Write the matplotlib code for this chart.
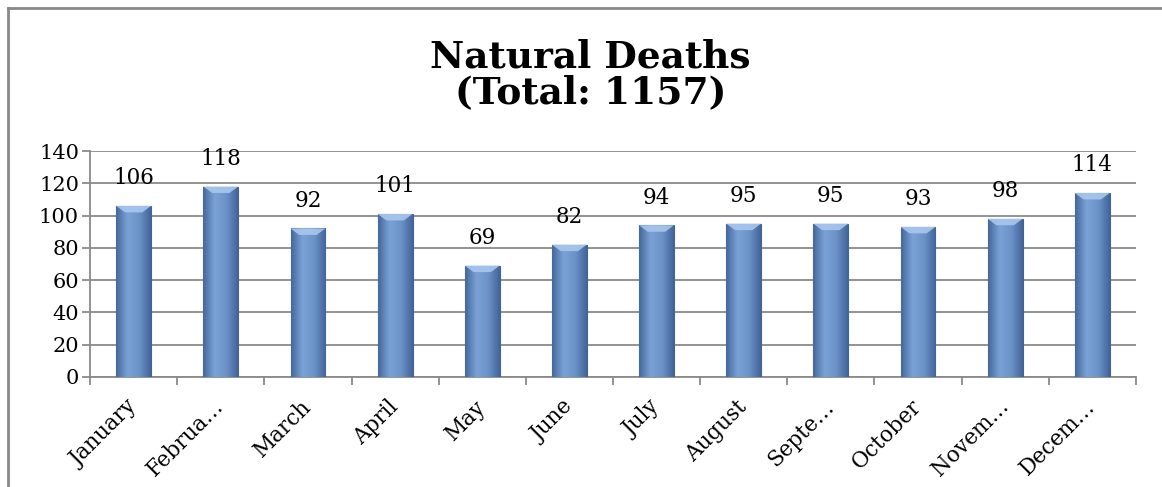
import numpy as np
import matplotlib.pyplot as plt
import matplotlib.transforms as mtransforms
from matplotlib.colors import LinearSegmentedColormap
from matplotlib.lines import Line2D
from matplotlib.patches import Polygon

##data
months = ["January", "February", "March", "April", "May", "June", "July",
          "August", "September", "October", "November", "December"]
tick_labels = ["January", "Februa\u2026", "March", "April", "May", "June", "July",
               "August", "Septe\u2026", "October", "Novem\u2026", "Decem\u2026"]
deaths = [106, 118, 92, 101, 69, 82, 94, 95, 95, 93, 98, 114]

plt.rcParams['font.family'] = ['DejaVu Serif']

fig = plt.figure(figsize=(11.62, 4.87), dpi=100)
ax = fig.add_axes([0.0775, 0.2259, 0.9, 0.464])

x = np.arange(len(months))
bars = ax.bar(x, deaths, width=0.4, color='#6B91C8', edgecolor='#42648F',
              linewidth=0.8, zorder=3)

##gradient fill inside each bar (dark edges, light middle)
cmap = LinearSegmentedColormap.from_list('bar', ['#45679A', '#7AA2D6', '#6C93C8', '#42649A'])
grad = np.linspace(0, 1, 200).reshape(1, -1)
for b in bars:
    bx, by = b.get_x(), b.get_y()
    w, h = b.get_width(), b.get_height()
    im = ax.imshow(grad, extent=[bx, bx + w, by, by + h], cmap=cmap,
                   aspect='auto', zorder=3.5, interpolation='bicubic')
    im.set_clip_path(b)
    ##light bevel at the top of the bar
    ax.add_patch(Polygon([(bx, by + h), (bx + w, by + h), (bx + w * 0.75, by + h - 4),
                          (bx + w * 0.25, by + h - 4)], closed=True,
                         facecolor='#A9C7EE', edgecolor='none', alpha=0.9, zorder=4))

##value labels above the bars
for xi, v in zip(x, deaths):
    ax.annotate(str(v), (xi, v), xytext=(0, 12), textcoords='offset points',
                ha='center', va='bottom', fontsize=15.5)

ax.set_xlim(-0.5, len(months) - 0.5)
ax.set_ylim(0, 140)
ax.set_yticks(range(0, 141, 20))
ax.yaxis.grid(True, color='#8A8A8A', linewidth=1.3, zorder=0)
ax.set_axisbelow(True)

ax.set_xticks(x)
ax.set_xticklabels(tick_labels, rotation=45, ha='right', va='center',
                   rotation_mode='anchor', fontsize=15.5)
##nudge month labels a little to the right, like the original
shift = mtransforms.ScaledTranslation(7 / 100, 0, fig.dpi_scale_trans)
for lab in ax.get_xticklabels():
    lab.set_transform(lab.get_transform() + shift)
ax.set_xticks(np.arange(-0.5, len(months)), minor=True)
ax.tick_params(axis='x', which='major', length=0, pad=19)
ax.tick_params(axis='x', which='minor', length=6, color='#8A8A8A', width=1.3)
ax.tick_params(axis='y', length=6, color='#8A8A8A', width=1.3, labelsize=15, pad=2)

for s in ['top', 'right']:
    ax.spines[s].set_visible(False)
for s in ['left', 'bottom']:
    ax.spines[s].set_color('#8A8A8A')
    ax.spines[s].set_linewidth(1.3)

fig.text(0.508, 0.846, "Natural Deaths\n(Total: 1157)", ha='center', va='center',
         fontsize=27, fontweight='bold', linespacing=0.97)

##chart frame on left and top
fig.add_artist(Line2D([0.0065, 0.0065], [0, 0.984], color='#888888', linewidth=2, transform=fig.transFigure))
fig.add_artist(Line2D([0.0065, 1], [0.984, 0.984], color='#888888', linewidth=2, transform=fig.transFigure))

fig.savefig('out.png', dpi=100)
